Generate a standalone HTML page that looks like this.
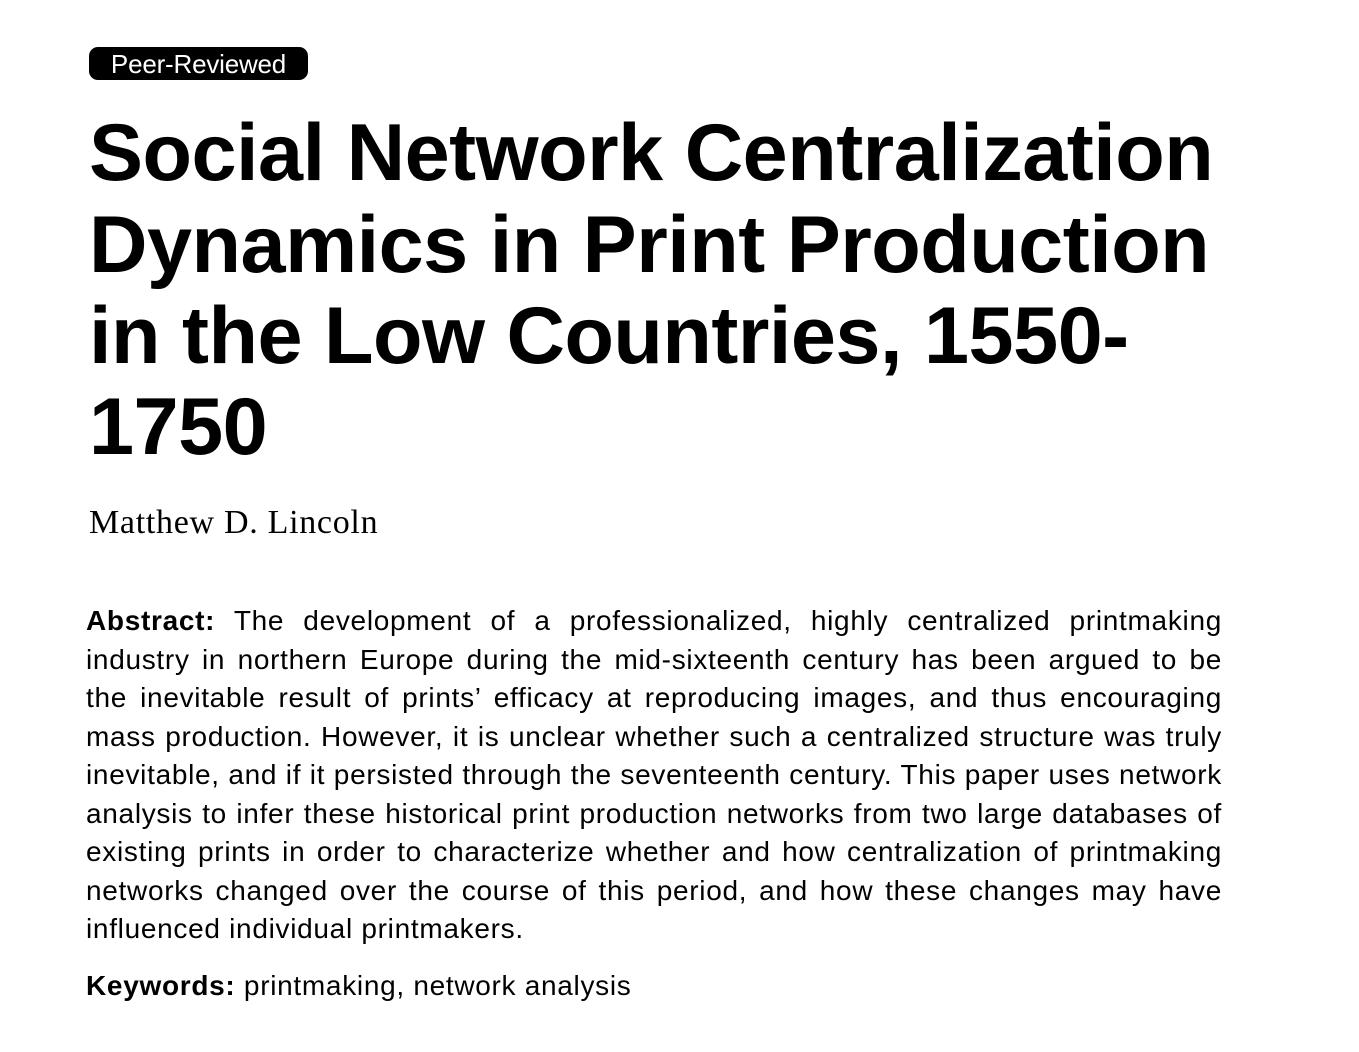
<!DOCTYPE html>
<html><head><meta charset="utf-8"><style>
body{margin:0;width:1359px;height:1052px;background:#fff;position:relative;overflow:hidden;font-family:"Liberation Sans",Arial,sans-serif;color:#000}
.badge{position:absolute;left:89px;top:47px;width:219px;height:33px;background:#000;border-radius:9px;color:#fff;font-size:26px;line-height:35px;text-align:center;letter-spacing:-0.2px}
.t{position:absolute;left:89px;font-weight:bold;font-size:81px;white-space:nowrap;line-height:1;letter-spacing:-0.5px}
.author{position:absolute;left:89px;top:504px;font-family:"Liberation Serif",serif;font-size:34px;white-space:nowrap;letter-spacing:0.7px}
.ab{position:absolute;left:86px;width:1136px;font-size:28px;line-height:1;text-align:justify;text-align-last:justify;white-space:nowrap;letter-spacing:0.7px}
.last{text-align-last:left}
</style></head><body>
<div class="badge">Peer-Reviewed</div>
<div>
<div class="t" style="top:113px">Social Network Centralization</div>
<div class="t" style="top:205px">Dynamics in Print Production</div>
<div class="t" style="top:296px">in the Low Countries, 1550-</div>
<div class="t" style="top:387px">1750</div>
</div>
<div class="author">Matthew D. Lincoln</div>
<div>
<div class="ab" style="top:607px"><b>Abstract:</b> The development of a professionalized, highly centralized printmaking</div>
<div class="ab" style="top:646px">industry in northern Europe during the mid-sixteenth century has been argued to be</div>
<div class="ab" style="top:684px">the inevitable result of prints’ efficacy at reproducing images, and thus encouraging</div>
<div class="ab" style="top:723px">mass production. However, it is unclear whether such a centralized structure was truly</div>
<div class="ab" style="top:761px">inevitable, and if it persisted through the seventeenth century. This paper uses network</div>
<div class="ab" style="top:800px">analysis to infer these historical print production networks from two large databases of</div>
<div class="ab" style="top:838px">existing prints in order to characterize whether and how centralization of printmaking</div>
<div class="ab" style="top:877px">networks changed over the course of this period, and how these changes may have</div>
<div class="ab last" style="top:915px">influenced individual printmakers.</div>
</div>
<div class="ab last" style="top:972px"><b>Keywords:</b> printmaking, network analysis</div>
</body></html>
